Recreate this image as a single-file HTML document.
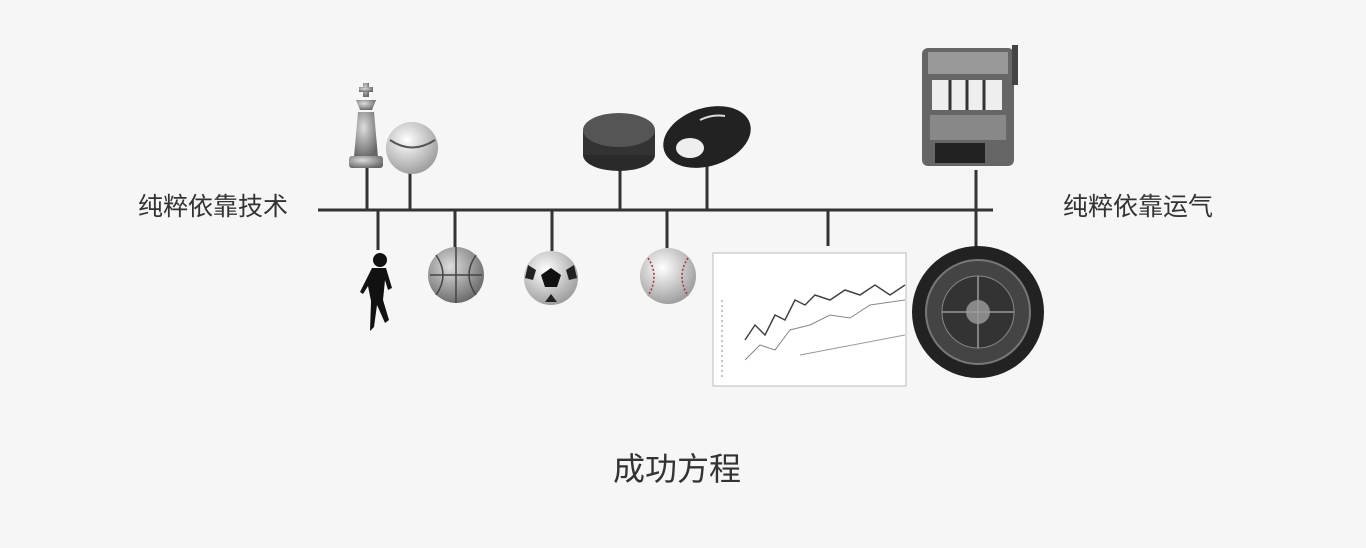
<!DOCTYPE html>
<html><head><meta charset="utf-8"><style>
html,body{margin:0;padding:0;background:#f6f6f6;}
body{width:1366px;height:548px;position:relative;overflow:hidden;font-family:"Liberation Sans","Noto Sans CJK SC",sans-serif;color:#333;}
.t{position:absolute;white-space:nowrap;line-height:1;}
</style></head><body>
<svg width="1366" height="548" style="position:absolute;left:0;top:0">
<defs>
<radialGradient id="g1" cx="40%" cy="35%" r="70%"><stop offset="0" stop-color="#ddd"/><stop offset="1" stop-color="#666"/></radialGradient>
<radialGradient id="g2" cx="40%" cy="35%" r="70%"><stop offset="0" stop-color="#fff"/><stop offset="1" stop-color="#999"/></radialGradient>
</defs>
<g stroke="#333" stroke-width="3">
<line x1="318" y1="210" x2="993" y2="210"/>
<line x1="367" y1="168" x2="367" y2="210"/>
<line x1="410" y1="170" x2="410" y2="210"/>
<line x1="620" y1="168" x2="620" y2="210"/>
<line x1="707" y1="164" x2="707" y2="210"/>
<line x1="976" y1="170" x2="976" y2="210"/>
<line x1="378" y1="210" x2="378" y2="250"/>
<line x1="455" y1="210" x2="455" y2="248"/>
<line x1="552" y1="210" x2="552" y2="251"/>
<line x1="667" y1="210" x2="667" y2="248"/>
<line x1="828" y1="210" x2="828" y2="246"/>
<line x1="976" y1="210" x2="976" y2="247"/>
</g>
<g fill="url(#g1)">
<rect x="363" y="83" width="6" height="14"/><rect x="359" y="87" width="14" height="5"/>
<path d="M356 100 h20 l-4 10 h-12z"/>
<path d="M358 112 h16 l4 45 h-24z"/>
<rect x="349" y="156" width="34" height="12" rx="3"/>
</g>
<circle cx="412" cy="148" r="26" fill="url(#g2)"/>
<path d="M390 140 q22 15 45 0" stroke="#555" fill="none" stroke-width="2"/>
<ellipse cx="619" cy="155" rx="36" ry="16" fill="#2a2a2a"/>
<rect x="583" y="130" width="72" height="25" fill="#333"/>
<ellipse cx="619" cy="130" rx="36" ry="17" fill="#555"/>
<ellipse cx="707" cy="137" rx="45" ry="29" transform="rotate(-18 707 137)" fill="#222"/>
<ellipse cx="690" cy="148" rx="14" ry="10" fill="#eee"/>
<path d="M700 120 q12 -6 25 -4" stroke="#ddd" stroke-width="2" fill="none"/>
<rect x="922" y="48" width="92" height="118" rx="6" fill="#666"/>
<rect x="928" y="52" width="80" height="22" fill="#999"/>
<rect x="932" y="80" width="70" height="30" fill="#eee"/>
<line x1="950" y1="80" x2="950" y2="110" stroke="#333" stroke-width="3"/>
<line x1="967" y1="80" x2="967" y2="110" stroke="#333" stroke-width="3"/>
<line x1="984" y1="80" x2="984" y2="110" stroke="#333" stroke-width="3"/>
<rect x="930" y="115" width="76" height="25" fill="#888"/>
<rect x="935" y="143" width="50" height="20" fill="#222"/>
<rect x="1012" y="45" width="6" height="40" fill="#444"/>
<g fill="#111">
<circle cx="380" cy="260" r="7"/>
<path d="M372 268 h14 l6 20 l-4 2 l-3 -10 l-2 20 l6 20 l-4 3 l-8 -18 l-3 22 l-4 4 l1 -30 l-3 -15 l-5 8 l-3 -2z"/>
</g>
<circle cx="456" cy="275" r="28" fill="url(#g1)"/>
<path d="M430 275 h52 M456 247 v56 M436 255 q14 20 0 40 M476 255 q-14 20 0 40" stroke="#444" stroke-width="1.5" fill="none"/>
<circle cx="551" cy="278" r="27" fill="url(#g2)"/>
<polygon points="551,268 561,275 557,287 545,287 541,275" fill="#111"/>
<path d="M528 265 l8 5 -3 10 -8 -2z M574 265 l-8 5 3 10 8 -2z M545 302 l6 -8 6 8z" fill="#222"/>
<circle cx="668" cy="276" r="28" fill="url(#g2)"/>
<path d="M648 258 q12 18 0 38 M688 258 q-12 18 0 38" stroke="#a33" stroke-width="1.5" fill="none" stroke-dasharray="2 2"/>
<rect x="713" y="253" width="193" height="133" fill="#fff" stroke="#bbb"/>
<polyline points="745,340 755,325 765,335 775,315 785,320 795,300 805,305 815,295 830,300 845,290 860,295 875,285 890,295 905,285" stroke="#444" fill="none" stroke-width="1.5"/>
<polyline points="745,360 760,345 775,350 790,330 810,325 830,315 850,318 870,305 905,300" stroke="#888" fill="none"/>
<line x1="722" y1="300" x2="722" y2="380" stroke="#888" stroke-dasharray="2 3"/>
<line x1="800" y1="355" x2="905" y2="335" stroke="#999"/>
<circle cx="978" cy="312" r="66" fill="#222"/>
<circle cx="978" cy="312" r="52" fill="#444" stroke="#777" stroke-width="2"/>
<circle cx="978" cy="312" r="36" fill="#333" stroke="#888"/>
<circle cx="978" cy="312" r="12" fill="#888"/>
<path d="M978 276 v72 M942 312 h72" stroke="#999" stroke-width="1.5"/>
</svg>
<div class="t" style="left:138px;top:195px;font-size:25px;">纯粹依靠技术</div>
<div class="t" style="left:1063px;top:195px;font-size:25px;">纯粹依靠运气</div>
<div class="t" style="left:613px;top:453px;font-size:32px;">成功方程</div>
</body></html>
